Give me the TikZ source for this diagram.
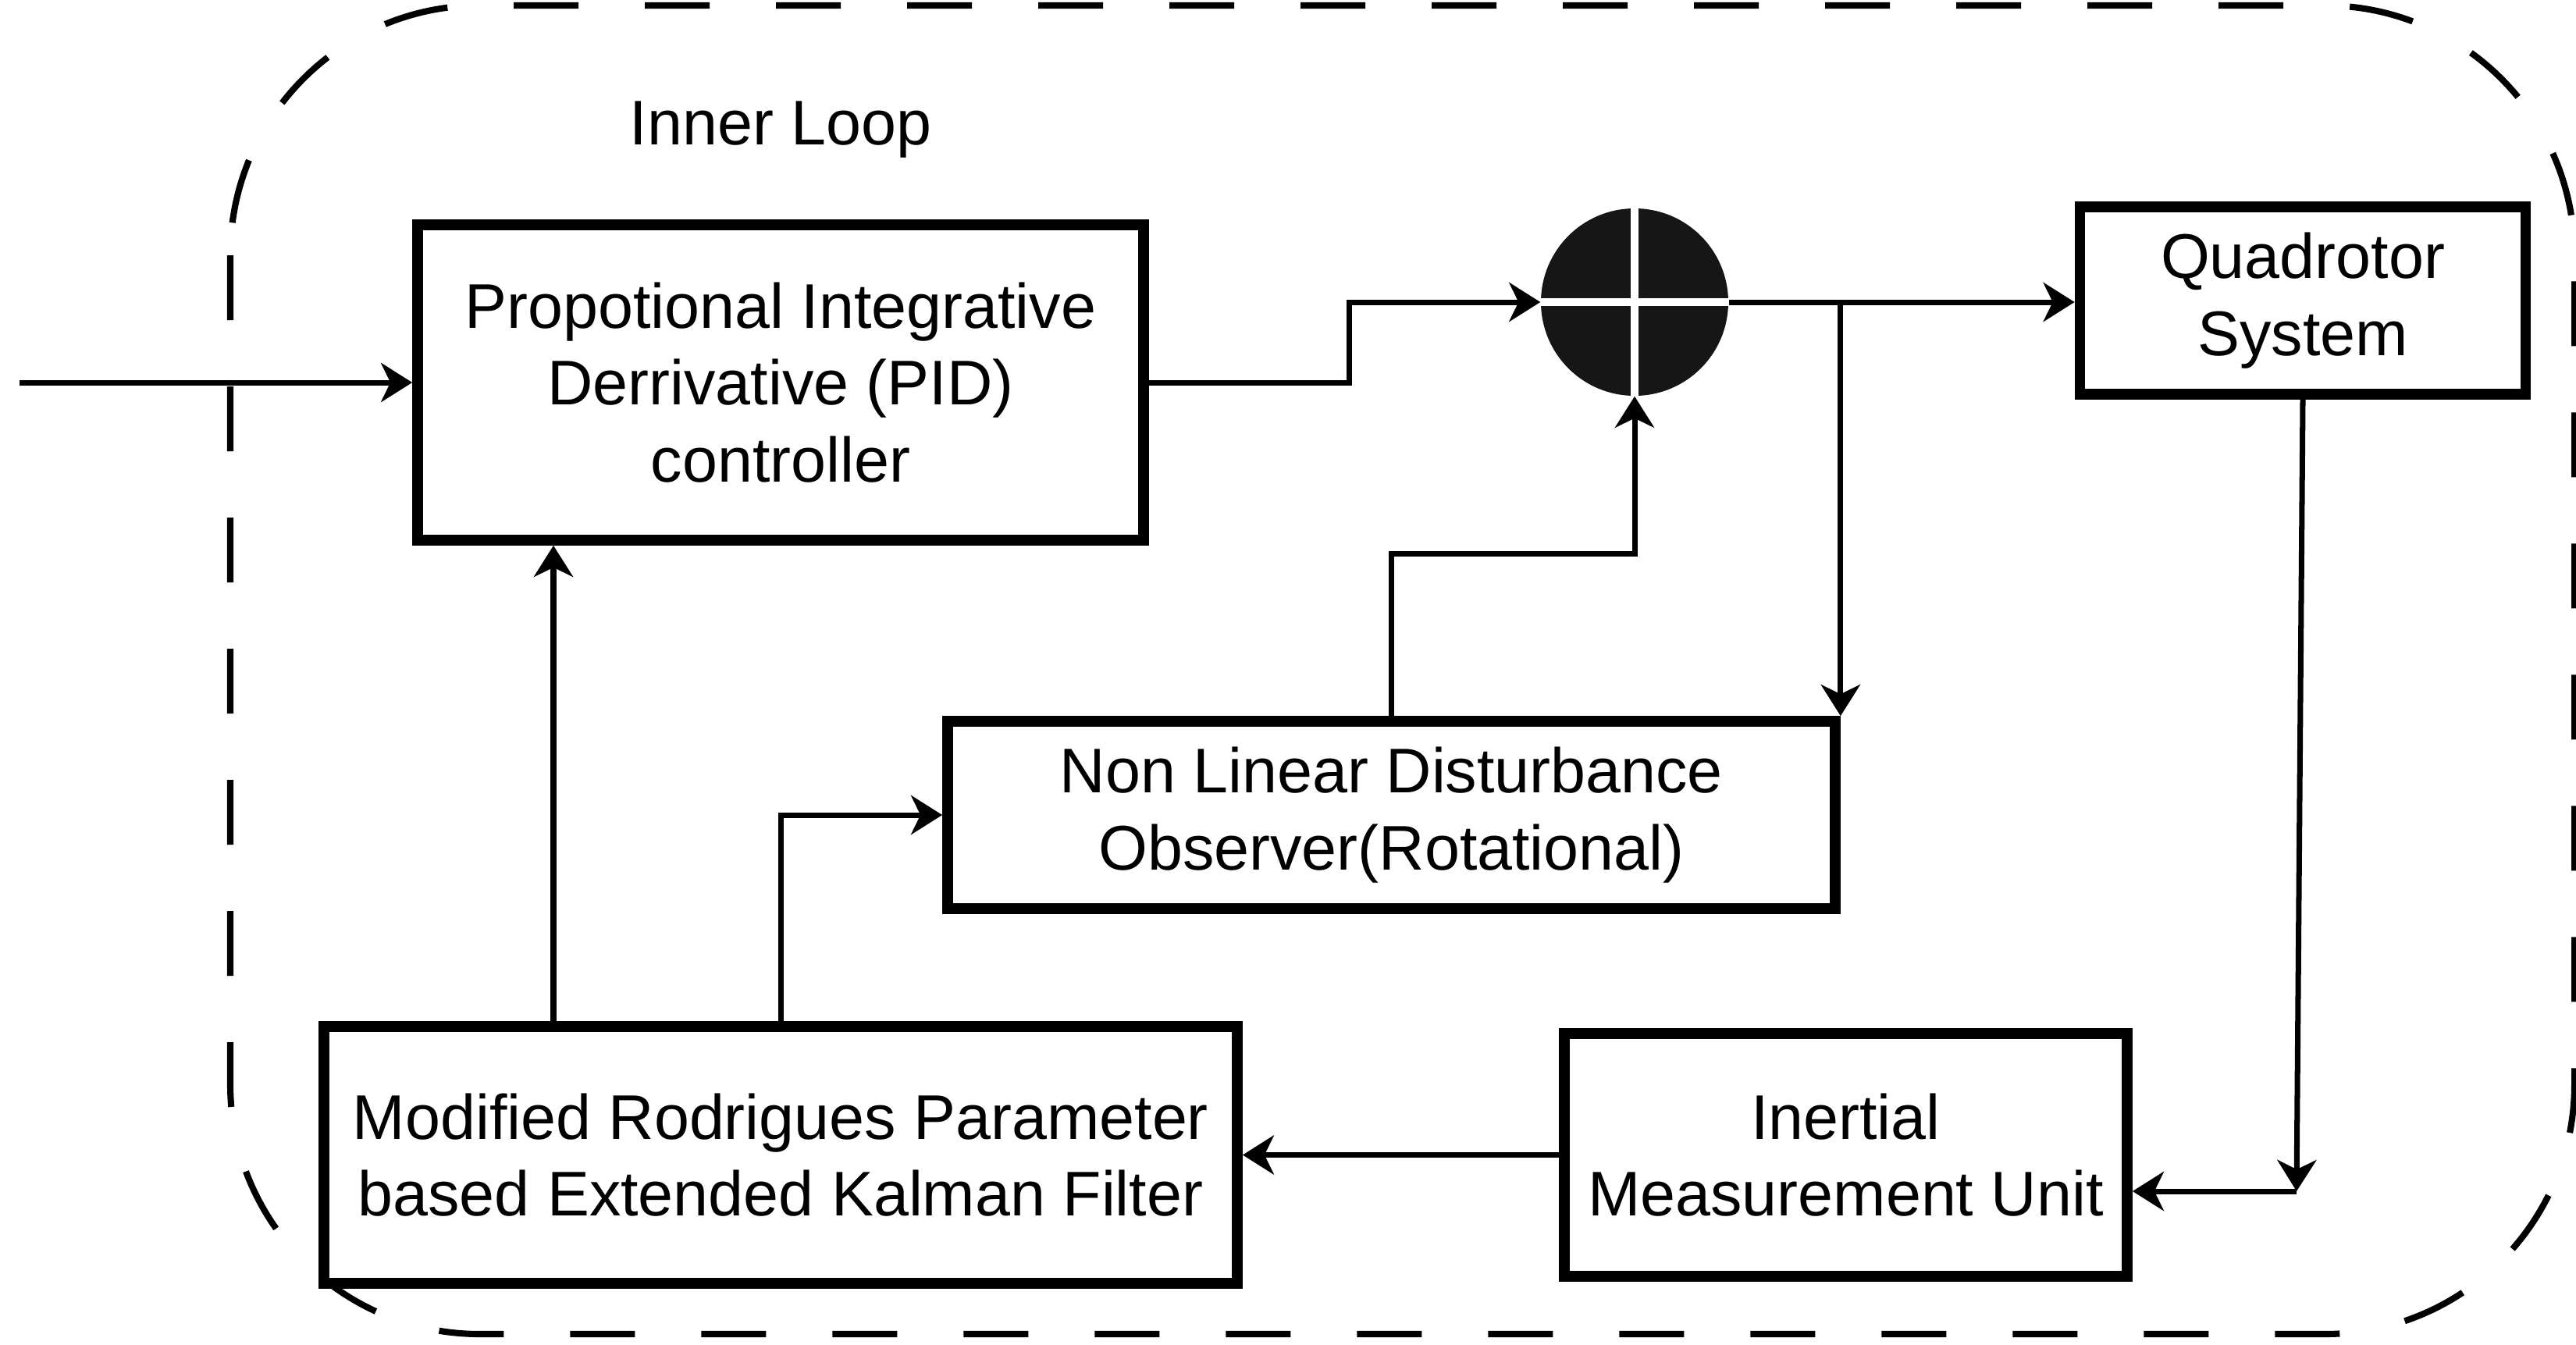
\documentclass[tikz,border=0pt]{standalone}
\usepackage{fontspec}
\setmainfont{Liberation Sans}
\usetikzlibrary{arrows.meta}
\definecolor{sumfill}{HTML}{161616}
\begin{document}
\begin{tikzpicture}[
  blockbox/.style={draw, line width=3.9pt, align=center, inner sep=0pt,
    font=\fontsize{23}{28}\selectfont},
  link/.style={line width=2pt, -{Stealth[length=4mm,width=5mm,inset=1.2mm]}}
]
\useasboundingbox (0,0) rectangle (33,-17.22);
% Inner loop frame
\draw[line width=2.3pt, dash pattern=on 0.83cm off 0.85cm, rounded corners=3.2cm]
  (2.95,-0.07) rectangle (32.98,-17.09);
\node[font=\fontsize{23}{28}\selectfont] (title) at (10.0,-1.66) {Inner Loop};
% Blocks
\node[blockbox, minimum width=9.3cm, minimum height=4.04cm] (pid) at (10.0,-4.9)
  {Propotional Integrative\\Derrivative (PID)\\controller};
\node[blockbox, minimum width=5.71cm, minimum height=2.4cm] (quad) at (29.5,-3.85)
  {Quadrotor\\System};
\node[blockbox, minimum width=11.37cm, minimum height=2.4cm] (ndo) at (17.825,-10.44)
  {Non Linear Disturbance\\Observer(Rotational)};
\node[blockbox, minimum width=11.7cm, minimum height=3.29cm] (ekf) at (10.0,-14.795)
  {Modified Rodrigues Parameter\\based Extended Kalman Filter};
\node[blockbox, minimum width=7.21cm, minimum height=3.11cm] (imu) at (23.645,-14.795)
  {Inertial\\Measurement Unit};
% Summing junction
\node[circle, fill=sumfill, minimum size=2.4cm, inner sep=0pt] (sum) at (20.94,-3.87) {};
\draw[white, line width=2.6pt] (sum.north) -- (sum.south);
\draw[white, line width=2.6pt] (sum.west) -- (sum.east);
% Signal lines
\coordinate (in) at (0.25,-4.9);
\coordinate (tap) at (29.42,-15.26);
\draw[link] (in) -- (pid.west);
\draw[link] (pid.east) -- ++(2.57,0) |- (sum.west);
\draw[link] (sum.east) -- (sum.east -| quad.west);
\draw[link] (sum.east -| ndo.north east) -- (ndo.north east);
\draw[link] (ndo.north) -- ++(0,2.08) -| (sum.south);
\draw[link] (quad.south) -- (tap);
\draw[link] (tap) -- (tap -| imu.east);
\draw[link] (imu.west) -- (ekf.east);
\draw[link] ([xshift=-2.91cm]ekf.north) -- ([xshift=-2.91cm]pid.south);
\draw[link] (ekf.north) |- (ndo.west);
\end{tikzpicture}
\end{document}
